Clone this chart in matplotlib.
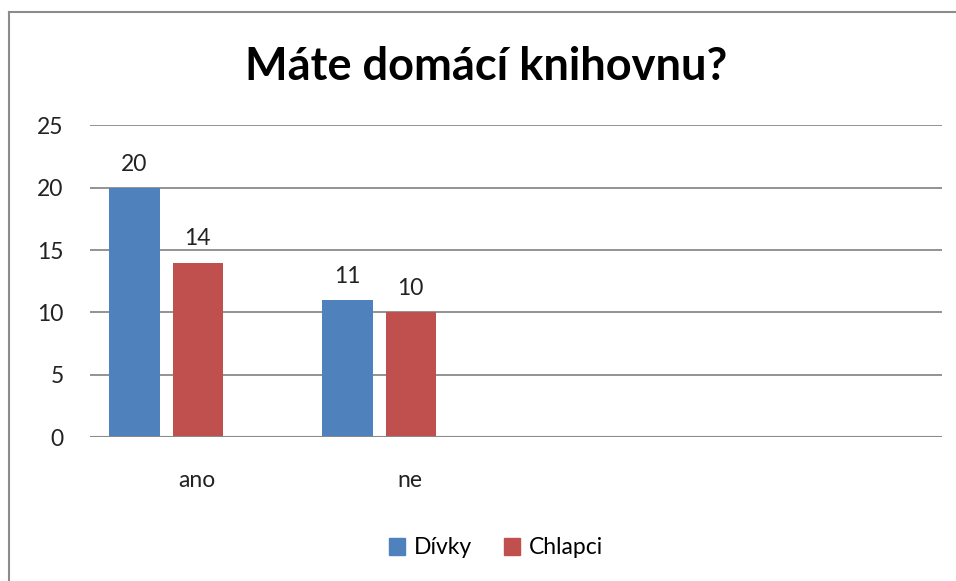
import numpy as np
import matplotlib
matplotlib.use("Agg")
import matplotlib.pyplot as plt
from matplotlib.lines import Line2D
from matplotlib.patches import Patch

plt.rcParams['font.family'] = ['Lato', 'DejaVu Sans']

title = "Máte domácí knihovnu?"
categories = ["ano", "ne", "", ""]
series_names = ["Dívky", "Chlapci"]
divky = [20, 11]
chlapci = [14, 10]
colors = ["#4F81BD", "#C0504D"]
yticks = [0, 5, 10, 15, 20, 25]

fig = plt.figure(figsize=(9.56, 5.81), dpi=100)
ax = fig.add_axes([0.0941, 0.2478, 0.8913, 0.5364])

# outer chart frame (left and top edges visible)
fig.add_artist(Line2D([9 / 956, 9 / 956], [0, 1 - 12 / 581], transform=fig.transFigure,
                      color="#8c8c8c", lw=1.5))
fig.add_artist(Line2D([9 / 956, 1], [1 - 12 / 581, 1 - 12 / 581], transform=fig.transFigure,
                      color="#8c8c8c", lw=1.5))

x = np.arange(len(categories))
width = 0.2355
step = 0.2967
offsets = [-step + 0.006, 0.006]
for vals, off, col, name in zip([divky, chlapci], offsets, colors, series_names):
    pos = x[:len(vals)] + off
    bars = ax.bar(pos, vals, width=width, color=col, label=name, zorder=3)
    for b, v in zip(bars, vals):
        ax.text(b.get_x() + b.get_width() / 2, v + 1.05, str(v), ha="center", va="bottom",
                fontsize=16.5, color="#222222")

ax.set_xlim(-0.5, 3.5)
ax.set_ylim(0, 25)
ax.set_yticks(yticks)
ax.set_xticks(x)
ax.set_xticklabels(categories)
ax.yaxis.grid(True, color="#8a8a8a", lw=1.3, zorder=0)
for s in ax.spines.values():
    s.set_visible(False)
ax.axhline(0, color="#8a8a8a", lw=1.5, zorder=4)
ax.tick_params(axis="y", length=0, pad=19, labelsize=16.5, labelcolor="#222222")
ax.tick_params(axis="x", length=0, pad=24, labelsize=16.5, labelcolor="#222222")

fig.text(0.509, 1 - 67 / 581, title, ha="center", va="center", fontsize=32.5,
         fontweight="bold", color="black")

handles = [Patch(color=c) for c in colors]
fig.legend(handles, series_names, loc="center", bbox_to_anchor=(496 / 956, 1 - 548 / 581),
           ncol=2, frameon=False, fontsize=16.5, handlelength=0.7, handleheight=0.7,
           handletextpad=0.4, columnspacing=1.4)

fig.savefig("out.png", dpi=100)
